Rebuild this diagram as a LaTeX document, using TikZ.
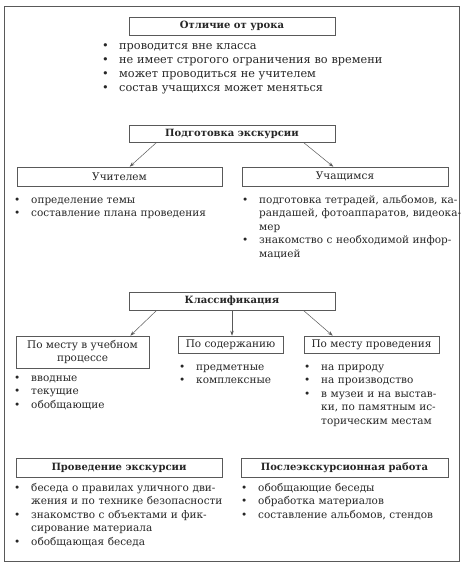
\documentclass[tikz,border=0pt]{standalone}
\usepackage{fontspec}
\setmainfont{DejaVu Serif}
\usetikzlibrary{arrows.meta}
\newcommand\bul{\makebox[17pt][l]{\textbullet}}
\newcommand\ind{\hspace*{17pt}}
\newcommand\jl[2]{\makebox[#1][s]{#2}}
\begin{document}
\begin{tikzpicture}[x=1pt,y=-1pt,
  every node/.style={text=black!85},
  hbox/.style={draw=black!65, line width=0.6pt, inner sep=0pt, align=center, font=\fontsize{10.5}{13.5}\selectfont},
  tbox/.style={hbox, font=\bfseries\fontsize{10}{12}\selectfont},
  lst/.style={inner sep=0pt, anchor=base west, text width=230pt, font=\fontsize{10.5}{13.5}\selectfont},
  arr/.style={draw=black!65, line width=0.5pt, -{Stealth[length=5pt,width=3.5pt]}}]
\useasboundingbox (0,0) rectangle (463,564);
\draw[black!65, line width=0.7pt] (4,6) rectangle (459.5,561);

% Отличие от урока
\node[tbox, minimum width=206, minimum height=18] (otl) at (232,26) {Отличие от урока};
\node[lst, text width=320pt, font=\fontsize{11.3}{13.7}\selectfont] (otlL) at (102,50)
  {\bul проводится вне класса\\
   \bul не имеет строгого ограничения во времени\\
   \bul может проводиться не учителем\\
   \bul состав учащихся может меняться};

% Подготовка экскурсии
\node[tbox, minimum width=206, minimum height=17] (podg) at (232,133.5) {Подготовка экскурсии};
\node[hbox, minimum width=205, minimum height=19] (uchit) at (119.5,176.5) {Учителем};
\node[hbox, minimum width=206, minimum height=19] (uchas) at (345,176.5) {Учащимся};
\draw[arr] ([xshift=28pt]podg.south west) -- ([xshift=113pt]uchit.north west);
\draw[arr] ([xshift=-32pt]podg.south east) -- ([xshift=-115pt]uchas.north east);
\node[lst] (uchitL) at (14,203)
  {\bul определение темы\\
   \bul составление плана проведения};
\node[lst] (uchasL) at (242,203)
  {\bul\jl{192pt}{подготовка тетрадей, альбомов, ка-}\\
   \ind\jl{192pt}{рандашей, фотоаппаратов, видеока-}\\
   \ind мер\\
   \bul\jl{192pt}{знакомство с необходимой инфор-}\\
   \ind мацией};

% Классификация
\node[tbox, minimum width=206, minimum height=18] (klass) at (232,301) {Классификация};
\node[hbox, minimum width=133, minimum height=32] (mesto) at (82.5,352) {По месту в учебном\\процессе};
\node[hbox, minimum width=105, minimum height=17] (sod) at (230.5,344.5) {По содержанию};
\node[hbox, minimum width=135, minimum height=17] (mprov) at (371.5,344.5) {По месту проведения};
\draw[arr] ([xshift=28pt]klass.south west) -- ([xshift=-19pt]mesto.north east);
\draw[arr] (klass.south) -- (klass.south |- sod.north);
\draw[arr] ([xshift=-32pt]klass.south east) -- ([xshift=29pt]mprov.north west);
\node[lst] (mestoL) at (14,381)
  {\bul вводные\\
   \bul текущие\\
   \bul обобщающие};
\node[lst] (sodL) at (179,370)
  {\bul предметные\\
   \bul комплексные};
\node[lst] (mprovL) at (304,370)
  {\bul на природу\\
   \bul на производство\\
   \bul\jl{114pt}{в музеи и на выстав-}\\
   \ind\jl{114pt}{ки, по памятным ис-}\\
   \ind\jl{114pt}{торическим местам}};

% Проведение / Послеэкскурсионная
\node[tbox, minimum width=206, minimum height=19] (prov) at (119,467.5) {Проведение экскурсии};
\node[tbox, minimum width=207, minimum height=19] (posle) at (344.5,467.5) {Послеэкскурсионная работа};
\node[lst] (provL) at (14,491)
  {\bul\jl{194pt}{беседа о правилах уличного дви-}\\
   \ind\jl{194pt}{жения и по технике безопасности}\\
   \bul\jl{194pt}{знакомство с объектами и фик-}\\
   \ind сирование материала\\
   \bul обобщающая беседа};
\node[lst] (posleL) at (241,491)
  {\bul обобщающие беседы\\
   \bul обработка материалов\\
   \bul составление альбомов, стендов};
\end{tikzpicture}
\end{document}
